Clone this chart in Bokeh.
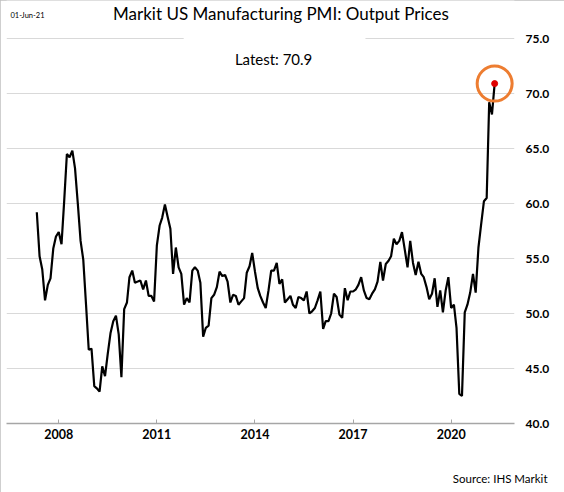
import pandas as pd
from bokeh.plotting import figure
from bokeh.models import (Range1d, FixedTicker, DatetimeTickFormatter, Label,
                          BoxAnnotation, NumeralTickFormatter, Title)
from bokeh.embed import file_html
from bokeh.resources import INLINE

# ---- data -------------------------------------------------------------
start_month = "2007-05-01"
pmi_output_prices = [
    59.2, 55.2, 54.0, 51.2, 52.6, 53.2, 55.9, 57.0, 57.4, 56.3,
    60.1, 64.5, 64.2, 64.8, 63.2, 60.0, 56.6, 54.9, 50.8, 46.7,
    46.8, 43.4, 43.2, 42.9, 45.2, 44.3, 46.3, 48.2, 49.3, 49.8,
    48.1, 44.2, 50.4, 51.0, 53.3, 53.9, 52.8, 52.9, 53.0, 52.2,
    53.0, 51.6, 51.6, 51.1, 56.2, 58.0, 58.7, 59.9, 58.8, 57.7,
    53.6, 56.0, 54.2, 53.6, 50.8, 51.4, 51.0, 53.9, 54.2, 53.9,
    52.8, 47.9, 48.7, 48.9, 51.4, 51.7, 52.4, 53.8, 53.4, 53.5,
    52.9, 51.0, 51.7, 51.6, 50.8, 51.1, 51.4, 53.7, 54.3, 55.5,
    53.8, 52.3, 51.6, 51.0, 50.5, 52.1, 53.9, 53.9, 54.6, 52.7,
    53.1, 51.0, 51.3, 51.6, 50.8, 50.5, 51.5, 51.4, 51.2, 52.0,
    50.0, 50.2, 50.5, 51.2, 52.0, 48.6, 49.3, 49.3, 50.0, 51.8,
    51.5, 49.9, 49.6, 52.3, 51.2, 52.0, 52.0, 52.2, 52.6, 53.3,
    52.1, 51.4, 51.3, 51.8, 52.2, 52.9, 54.7, 53.0, 54.5, 54.8,
    55.2, 56.8, 56.3, 56.6, 57.4, 55.8, 54.2, 56.6, 54.6, 53.5,
    54.7, 53.6, 53.3, 52.4, 51.3, 51.8, 53.2, 50.6, 52.1, 50.1,
    52.1, 53.3, 50.5, 50.8, 48.7, 42.7, 42.5, 50.1, 50.8, 51.9,
    53.6, 51.9, 56.0, 58.1, 60.2, 60.5, 69.2, 68.1, 70.9,
]
months = pd.date_range(start_month, periods=len(pmi_output_prices), freq="MS")
x_tick_years = [2008, 2011, 2014, 2017, 2020]
y_ticks = [40, 45, 50, 55, 60, 65, 70, 75]
title_text = "Markit US Manufacturing PMI: Output Prices"
date_text = "01-Jun-21"
source_text = "Source: IHS Markit"
latest_value = pmi_output_prices[-1]

# ---- helpers for positions -------------------------------------------
MONTH_MS = 30.4375 * 24 * 3600 * 1000
t0 = pd.Timestamp(start_month).value / 1e6


def mpos(m):
    return t0 + m * MONTH_MS


FONT = "Lato"

p = figure(width=564, height=492, x_axis_type="datetime",
           y_axis_location="right", output_backend="svg",
           toolbar_location=None,
           x_range=Range1d(mpos(-11.12), mpos(175.3)),
           y_range=Range1d(40, 75 + 38 / 11),
           min_border_left=6, min_border_right=50,
           min_border_top=0, min_border_bottom=69)
p.outline_line_color = None
p.background_fill_color = "white"
p.border_fill_color = "white"
p.styles = {"outline": "1px solid #bfbfbf", "outline-offset": "-1px"}

# grid
p.xgrid.grid_line_color = None
p.ygrid.grid_line_color = "#d9d9d9"
p.ygrid.grid_line_width = 1

# y axis
p.yaxis.ticker = FixedTicker(ticks=y_ticks)
p.yaxis.formatter = NumeralTickFormatter(format="0.0")
p.yaxis.axis_line_color = None
p.yaxis.major_tick_line_color = None
p.yaxis.major_tick_in = 0
p.yaxis.major_tick_out = 0
p.yaxis.minor_tick_line_color = None
p.yaxis.minor_tick_in = 0
p.yaxis.minor_tick_out = 0
p.yaxis.major_label_standoff = 11
p.yaxis.major_label_text_font = FONT
p.yaxis.major_label_text_font_style = "bold"
p.yaxis.major_label_text_font_size = "12px"
p.yaxis.major_label_text_color = "black"

# x axis
p.xaxis.ticker = FixedTicker(
    ticks=[pd.Timestamp(f"{y}-01-01").value / 1e6 for y in x_tick_years])
p.xaxis.formatter = DatetimeTickFormatter(
    years="%Y", months="%Y", days="%Y", hours="%Y", minutes="%Y",
    seconds="%Y", milliseconds="%Y", microseconds="%Y")
p.xaxis.axis_line_color = "#a6a6a6"
p.xaxis.axis_line_width = 1.5
p.xaxis.major_tick_line_color = "#a6a6a6"
p.xaxis.major_tick_in = 4
p.xaxis.major_tick_out = 0
p.xaxis.minor_tick_line_color = None
p.xaxis.minor_tick_in = 0
p.xaxis.minor_tick_out = 0
p.xaxis.major_label_standoff = 5
p.xaxis.major_label_text_font = FONT
p.xaxis.major_label_text_font_style = "bold"
p.xaxis.major_label_text_font_size = "12.5px"
p.xaxis.major_label_text_color = "black"

# white box behind "Latest" text (breaks the 75 gridline)
p.add_layout(BoxAnnotation(left=mpos(53.9), right=mpos(120.6), bottom=72.0,
                           top=75.6, fill_color="white", fill_alpha=1.0,
                           line_color=None, level="underlay"))

# series
p.line(months, pmi_output_prices, line_color="black", line_width=2.2)
p.scatter([months[-1]], [latest_value], size=35, marker="circle",
          fill_color=None, line_color="#ED7D31", line_width=3)
p.scatter([months[-1]], [latest_value], size=6, marker="circle",
          fill_color="#e00000", line_color="#e00000")

# texts
p.add_layout(Label(x=mpos(89.6), y=77.3, text=title_text, text_font=FONT,
                   text_font_size="17px", text_align="center",
                   text_baseline="middle", text_color="black"))
p.add_layout(Label(x=mpos(-9.65), y=77.1, text=date_text, text_font=FONT,
                   text_font_size="7.5px", text_align="left",
                   text_baseline="middle", text_color="black"))
p.add_layout(Label(x=mpos(87.6), y=73.18, text=f"Latest:  {latest_value:.1f}",
                   text_font=FONT, text_font_size="15px", text_align="center",
                   text_baseline="middle", text_color="black"))
p.add_layout(Title(text="\n\n" + source_text, align="right", text_font=FONT,
                   text_font_size="11.5px", text_font_style="normal",
                   text_color="black", standoff=5, offset=-33), "below")

open("out.html", "w").write(file_html(p, INLINE))
